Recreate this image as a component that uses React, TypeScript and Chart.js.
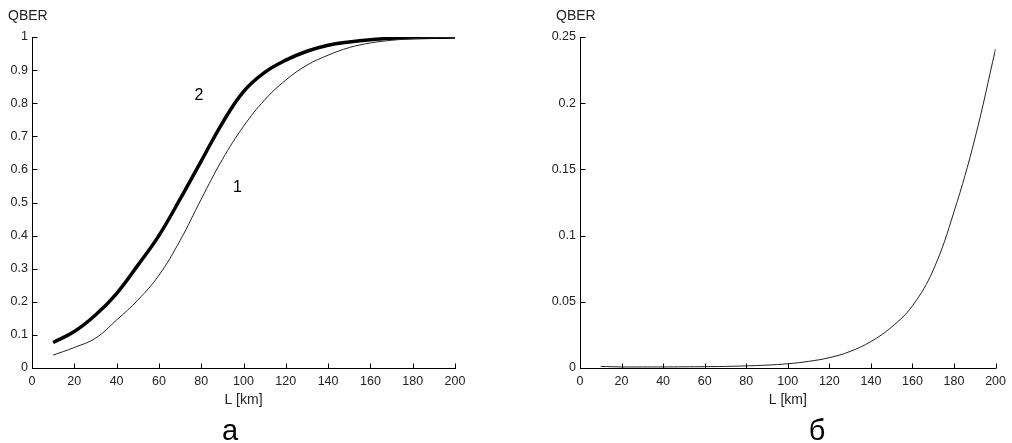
import React, { useEffect, useRef } from "react";
import { Chart, registerables } from "chart.js";

Chart.register(...registerables);

const distances = [10, 20, 30, 40, 50, 60, 70, 80, 90, 100, 110, 120, 130, 140, 150, 160, 170, 180, 190, 200];
const qberCurve1 = [0.039, 0.062, 0.09, 0.145, 0.205, 0.28, 0.385, 0.51, 0.63, 0.73, 0.81, 0.87, 0.915, 0.945, 0.968, 0.982, 0.99, 0.995, 0.998, 0.999];
const qberCurve2 = [0.077, 0.11, 0.16, 0.225, 0.31, 0.4, 0.51, 0.625, 0.74, 0.835, 0.893, 0.93, 0.957, 0.975, 0.985, 0.992, 0.996, 0.998, 0.999, 1.0];
const qberRight = [0.0012, 0.0008, 0.0008, 0.0008, 0.0009, 0.001, 0.0012, 0.0016, 0.0022, 0.0032, 0.005, 0.0078, 0.0125, 0.02, 0.031, 0.047, 0.074, 0.118, 0.173, 0.241];
const xTicks = [0, 20, 40, 60, 80, 100, 120, 140, 160, 180, 200];
const yTicksLeft = [0, 0.1, 0.2, 0.3, 0.4, 0.5, 0.6, 0.7, 0.8, 0.9, 1];
const yTicksRight = [0, 0.05, 0.1, 0.15, 0.2, 0.25];
const yAxisTitle = "QBER";
const xAxisTitle = "L [km]";
const panelLeft = "а";
const panelRight = "б";
const curveLabels = ["1", "2"];

const FONT = "'Liberation Sans', Arial, sans-serif";

type PanelOpts = {
  yMax: number;
  yStep: number;
  yTicks: number[];
  yWidth: number;
  padRight: number;
  datasets: any[];
  qberX: number;
  panelText: string;
  panelX: number;
  curveTexts?: { text: string; x: number; y: number }[];
};

const fmt = (v: any) => String(+Number(v).toFixed(3));

function makeDecorPlugin(o: PanelOpts) {
  return {
    id: "decor",
    afterDraw(chart: any) {
      const ctx = chart.ctx as CanvasRenderingContext2D;
      const xs = chart.scales.x;
      const ys = chart.scales.y;
      const area = chart.chartArea;
      ctx.save();
      ctx.strokeStyle = "#000";
      ctx.lineWidth = 1;
      ctx.beginPath();
      const bottom = Math.round(area.bottom) + 0.5;
      for (const t of xTicks) {
        const px = Math.round(xs.getPixelForValue(t)) + 0.5;
        ctx.moveTo(px, bottom);
        ctx.lineTo(px, bottom - 5);
      }
      const left = Math.round(area.left) + 0.5;
      for (const t of o.yTicks) {
        const py = Math.round(ys.getPixelForValue(t)) + 0.5;
        ctx.moveTo(left, py);
        ctx.lineTo(left + 5, py);
      }
      ctx.stroke();

      ctx.fillStyle = "#222";
      ctx.font = `14px ${FONT}`;
      ctx.textBaseline = "middle";
      ctx.textAlign = "left";
      ctx.fillText(yAxisTitle, o.qberX, 16);
      ctx.textAlign = "center";
      ctx.fillText(xAxisTitle, (area.left + area.right) / 2, 400);

      ctx.fillStyle = "#000";
      ctx.font = `29px ${FONT}`;
      ctx.textBaseline = "alphabetic";
      ctx.fillText(o.panelText, o.panelX, 440);

      if (o.curveTexts) {
        ctx.font = `16px ${FONT}`;
        ctx.textBaseline = "middle";
        for (const c of o.curveTexts) ctx.fillText(c.text, c.x, c.y);
      }
      ctx.restore();
    },
  };
}

function Panel({ o, left }: { o: PanelOpts; left: number }) {
  const ref = useRef<HTMLCanvasElement | null>(null);
  useEffect(() => {
    if (!ref.current) return;
    const chart = new Chart(ref.current, {
      type: "line",
      data: { datasets: o.datasets },
      options: {
        animation: false,
        responsive: false,
        devicePixelRatio: 1,
        layout: { autoPadding: false, padding: { left: 0, top: 37, right: o.padRight, bottom: 0 } },
        plugins: { legend: { display: false }, tooltip: { enabled: false }, title: { display: false } },
        elements: { point: { radius: 0 } },
        scales: {
          x: {
            type: "linear",
            min: 0,
            max: 200,
            grid: { display: false, drawTicks: false },
            border: { display: true, color: "#000", width: 1 },
            ticks: { stepSize: 20, color: "#222", font: { family: FONT, size: 12.5 }, padding: 6, maxRotation: 0, autoSkip: false, callback: fmt },
            afterFit: (s: any) => { s.height = 75; },
          },
          y: {
            type: "linear",
            min: 0,
            max: o.yMax,
            grid: { display: false, drawTicks: false },
            border: { display: true, color: "#000", width: 1 },
            ticks: { stepSize: o.yStep, color: "#222", font: { family: FONT, size: 12.5 }, padding: 4, autoSkip: false, callback: fmt },
            afterFit: (s: any) => { s.width = o.yWidth; },
          },
        },
      } as any,
      plugins: [makeDecorPlugin(o)],
    });
    return () => chart.destroy();
  }, []);
  return (
    <canvas ref={ref} width={506} height={443} style={{ position: "absolute", left, top: 0, width: 506, height: 443 }} />
  );
}

const toPts = (ys: number[]) => distances.map((x, i) => ({ x, y: ys[i] }));

const leftOpts: PanelOpts = {
  yMax: 1,
  yStep: 0.1,
  yTicks: yTicksLeft,
  yWidth: 32,
  padRight: 51,
  qberX: 8,
  panelText: panelLeft,
  panelX: 230,
  curveTexts: [
    { text: curveLabels[0], x: 237.5, y: 188 },
    { text: curveLabels[1], x: 199, y: 96 },
  ],
  datasets: [
    { data: toPts(qberCurve1), borderColor: "#222", borderWidth: 1, tension: 0.4, fill: false },
    { data: toPts(qberCurve2), borderColor: "#000", borderWidth: 3.5, tension: 0.4, fill: false },
  ],
};

const rightOpts: PanelOpts = {
  yMax: 0.25,
  yStep: 0.05,
  yTicks: yTicksRight,
  yWidth: 74,
  padRight: 8,
  qberX: 50,
  panelText: panelRight,
  panelX: 311,
  datasets: [
    { data: toPts(qberRight), borderColor: "#222", borderWidth: 1, tension: 0.4, fill: false },
  ],
};

export default function App() {
  return (
    <div style={{ position: "absolute", left: 0, top: 0, width: 1012, height: 443, background: "#fff" }}>
      <Panel o={leftOpts} left={0} />
      <Panel o={rightOpts} left={506} />
    </div>
  );
}
